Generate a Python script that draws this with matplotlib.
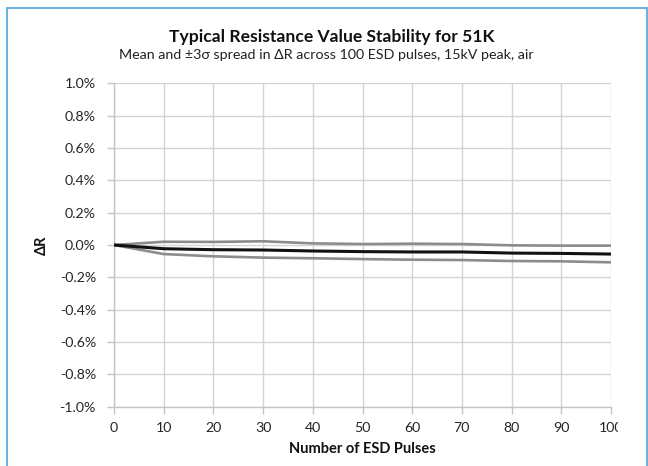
import matplotlib
matplotlib.use("Agg")
import matplotlib.pyplot as plt
from matplotlib.patches import Rectangle
from matplotlib.transforms import Bbox, TransformedBbox
from matplotlib.ticker import FuncFormatter

pulses = [0, 10, 20, 30, 40, 50, 60, 70, 80, 90, 100]
upper = [0.0, 0.020, 0.019, 0.023, 0.010, 0.006, 0.008, 0.006, -0.002, -0.004, -0.004]
mean = [0.0, -0.023, -0.029, -0.031, -0.037, -0.041, -0.043, -0.043, -0.050, -0.052, -0.056]
lower = [0.0, -0.056, -0.070, -0.078, -0.082, -0.087, -0.091, -0.093, -0.099, -0.101, -0.107]
x_ticks = [0, 10, 20, 30, 40, 50, 60, 70, 80, 90, 100]
y_ticks = [-1.0, -0.8, -0.6, -0.4, -0.2, 0.0, 0.2, 0.4, 0.6, 0.8, 1.0]

title = "Typical Resistance Value Stability for 51K"
subtitle = "Mean and \u00b13\u03c3 spread in \u0394R across 100 ESD pulses, 15kV peak, air"

plt.rcParams['font.family'] = ['Lato', 'DejaVu Sans']

W, H = 648, 466
fig = plt.figure(figsize=(W / 100, H / 100), dpi=100)
ax = fig.add_axes([114 / W, 1 - 406.7 / H, (611 - 114) / W, (406.7 - 83.3) / H])

grid_c = '#d4d4d4'
ax.plot(pulses, upper, color='#8c8c8c', lw=1.9, zorder=3)
ax.plot(pulses, lower, color='#8c8c8c', lw=1.9, zorder=3)
ax.plot(pulses, mean, color='#111111', lw=2.2, zorder=4)

ax.set_xlim(0, 100)
ax.set_ylim(-1.0, 1.0)
ax.set_xticks(x_ticks)
ax.set_yticks(y_ticks)
ax.yaxis.set_major_formatter(FuncFormatter(lambda v, p: f"{v:.1f}%"))
ax.grid(True, color=grid_c, lw=1.0, zorder=0)
ax.set_axisbelow(True)
for s in ['top', 'right']:
    ax.spines[s].set_visible(False)
for s in ['left', 'bottom']:
    ax.spines[s].set_color('#c4c4c4')
    ax.spines[s].set_linewidth(1.0)
ax.tick_params(axis='both', colors='#c4c4c4', length=5, width=1.0, labelcolor='#262626', labelsize=10.2)
ax.tick_params(axis='x', pad=6)
ax.tick_params(axis='y', pad=8)

ax.set_xlabel("Number of ESD Pulses", fontsize=10.5, fontweight='bold', color='#111111', labelpad=6)
ax.set_ylabel("\u0394R", fontsize=10.5, fontweight='bold', color='#111111', labelpad=8)

fig.text(332 / W, 1 - 37 / H, title, ha='center', va='center', fontsize=12.6, fontweight='bold', color='#111111')
fig.text(326 / W, 1 - 55 / H, subtitle, ha='center', va='center', fontsize=10.3, color='#222222')

clip = TransformedBbox(Bbox([[0, 0], [618 / W, 1]]), fig.transFigure)
fig.canvas.draw()
for lab in ax.get_xticklabels():
    if lab.get_text() == '100':
        lab.set_clip_box(clip)
        lab.set_clip_on(True)

border = Rectangle((6.5 / W, -0.05), (646.5 - 6.5) / W, 1.05 - 7.5 / H, transform=fig.transFigure,
                   fill=False, edgecolor='#6cb2e2', lw=1.5, clip_on=False)
fig.patches.append(border)

fig.savefig("out.png", dpi=100)
